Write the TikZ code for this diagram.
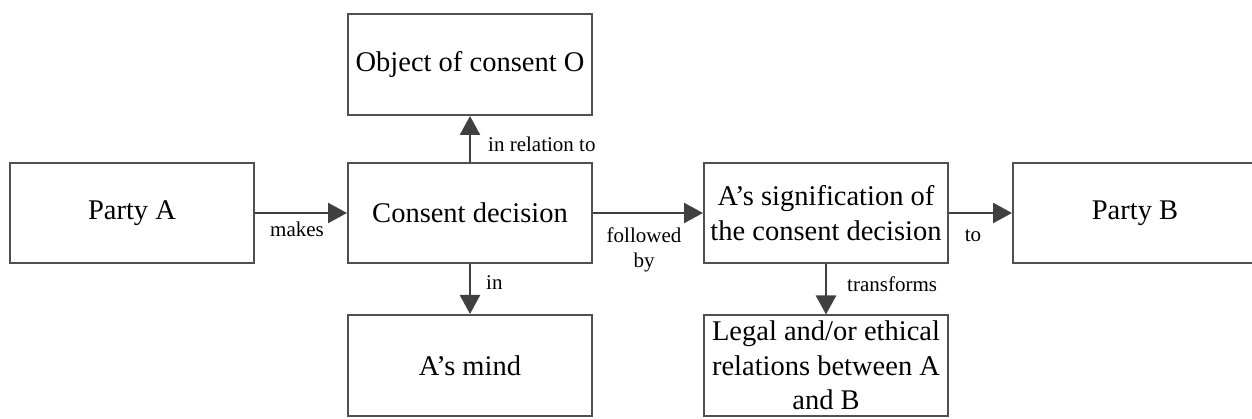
\documentclass[tikz,border=0pt]{standalone}
\usepackage{fontspec}
\setmainfont{Liberation Serif}
\usetikzlibrary{arrows.meta}
\definecolor{boxline}{HTML}{505050}
\definecolor{arrline}{HTML}{404040}
\tikzset{
  box/.style={draw=boxline, line width=2pt, rectangle, minimum width=244pt, inner sep=0pt, align=center,
    font=\fontsize{28.5}{34.5}\selectfont},
  arr/.style={draw=arrline, line width=2.5pt, -{Triangle[length=19pt,width=20pt]}},
  lbl/.style={inner sep=0pt, anchor=base, font=\fontsize{21}{25}\selectfont}
}
\begin{document}
\begin{tikzpicture}[x=1pt,y=-1pt]
\useasboundingbox (0,0) rectangle (1252,419);
\node[box, minimum height=100pt] (pa) at (132,213) {Party A};
\node[box, minimum height=100pt] (cd) at (470,213) {Consent decision};
\node[box, minimum height=101pt] (obj) at (470,64.5) {Object of consent O};
\node[box, minimum height=101pt] (mind) at (470,365.5) {A’s mind};
\node[box, minimum height=100pt] (sig) at (826,213) {A’s signification of\\the consent decision};
\node[box, minimum height=100pt] (legal) at (826,365.5) {Legal and/or ethical\\relations between A\\and B};
\node[box, minimum height=100pt] (pb) at (1135,213) {Party B};

\draw[arr] (pa) -- (cd);
\draw[arr] (cd) -- (obj);
\draw[arr] (cd) -- (mind);
\draw[arr] (cd) -- (sig);
\draw[arr] (sig) -- (pb);
\draw[arr] (sig) -- (legal);

\node[lbl] (lmakes) at (297,237) {makes};
\node[lbl, anchor=base west] (lrel) at (488,152) {in relation to};
\node[lbl, anchor=base west] (lin) at (486,290) {in};
\node[lbl, anchor=base west] (ltr) at (847,292) {transforms};
\node[lbl] (lfol) at (644,243) {followed};
\node[lbl] (lby) at (644,268) {by};
\node[lbl] (lto) at (973,242) {to};
\end{tikzpicture}
\end{document}
